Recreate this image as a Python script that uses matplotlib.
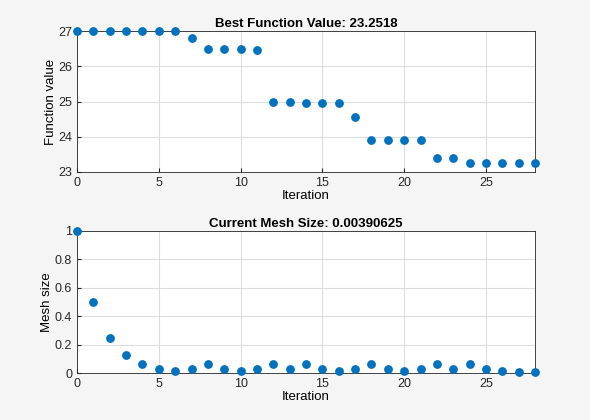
import matplotlib
matplotlib.use('Agg')
import matplotlib.pyplot as plt

iterations = list(range(29))
best_fval = [27, 27, 27, 27, 27, 27, 27, 26.8, 26.5, 26.5, 26.5, 26.45,
             25.0, 25.0, 24.95, 24.95, 24.95, 24.55, 23.9, 23.9, 23.9, 23.9,
             23.4, 23.4, 23.25, 23.25, 23.25, 23.25, 23.2518]
mesh_size = [1, 0.5, 0.25, 0.125, 0.0625, 0.03125, 0.015625, 0.03125, 0.0625,
             0.03125, 0.015625, 0.03125, 0.0625, 0.03125, 0.0625, 0.03125,
             0.015625, 0.03125, 0.0625, 0.03125, 0.015625, 0.03125, 0.0625,
             0.03125, 0.0625, 0.03125, 0.015625, 0.0078125, 0.00390625]

plt.rcParams['font.family'] = ['Liberation Sans', 'DejaVu Sans']
W, H = 590, 420
fig = plt.figure(figsize=(W / 100, H / 100), dpi=100, facecolor='#f5f5f5')
blue = '#0072BD'


def style(ax):
    ax.set_facecolor('white')
    ax.grid(True, color='#dcdcdc', linewidth=0.8)
    ax.set_axisbelow(True)
    ax.tick_params(labelsize=9, colors='#262626', length=3, direction='in')
    for s in ax.spines.values():
        s.set_color('#262626')
        s.set_linewidth(0.6)
    ax.set_xlim(0, 28)
    ax.set_xticks([0, 5, 10, 15, 20, 25])
    ax.set_xlabel('Iteration', fontsize=9.5, labelpad=1)


ax1 = fig.add_axes([77 / W, 1 - 172 / H, 458 / W, 141 / H])
ax1.scatter(iterations, best_fval, s=28, color=blue, zorder=3, clip_on=False)
style(ax1)
ax1.set_ylim(23, 27)
ax1.set_yticks([23, 24, 25, 26, 27])
ax1.set_ylabel('Function value', fontsize=9.5, labelpad=1)
ax1.set_title('Best Function Value: 23.2518', fontsize=9.5, fontweight='bold', pad=3)

ax2 = fig.add_axes([77 / W, 1 - 373 / H, 458 / W, 142 / H])
ax2.scatter(iterations, mesh_size, s=28, color=blue, zorder=3, clip_on=False)
style(ax2)
ax2.set_ylim(0, 1)
ax2.set_yticks([0, 0.2, 0.4, 0.6, 0.8, 1])
ax2.set_yticklabels(['0', '0.2', '0.4', '0.6', '0.8', '1'])
ax2.set_ylabel('Mesh size', fontsize=9.5, labelpad=1)
ax2.set_title('Current Mesh Size: 0.00390625', fontsize=9.5, fontweight='bold', pad=3)

fig.savefig('out.png', dpi=100, facecolor=fig.get_facecolor())
